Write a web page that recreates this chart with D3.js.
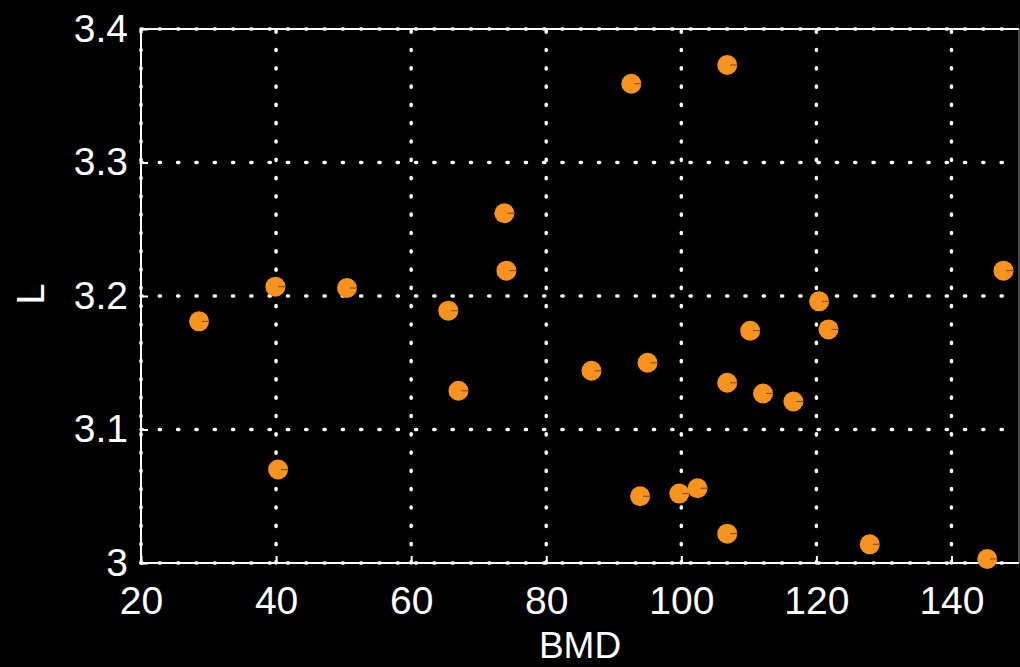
<!DOCTYPE html>
<html>
<head>
<meta charset="utf-8">
<script src="https://cdn.jsdelivr.net/npm/d3@7"></script>
<style>
  body { margin: 0; background: #000; }
  text { font-family: "Liberation Sans", Arial, sans-serif; fill: #fff; }
</style>
</head>
<body>
<svg id="chart" width="1020" height="667"></svg>
<script>
// BMD vs L values
const bmd = [28.6, 39.9, 40.3, 50.5, 65.5, 67.0, 73.8, 74.1, 86.7, 92.6, 93.9, 95.0,
             99.7, 102.4, 106.8, 106.8, 106.8, 110.2, 112.1, 116.6, 120.4, 121.8, 127.9, 145.3, 147.7];
const lVal = [3.181, 3.207, 3.070, 3.206, 3.189, 3.129, 3.262, 3.219, 3.144, 3.359, 3.050, 3.150,
              3.052, 3.056, 3.373, 3.135, 3.022, 3.174, 3.127, 3.121, 3.196, 3.175, 3.014, 3.003, 3.219];
const xTicks = [20, 40, 60, 80, 100, 120, 140];
const yTicks = [3, 3.1, 3.2, 3.3, 3.4];

const svg = d3.select("#chart");
const mLeft = 141, mRight = 1019, mTop = 29, mBottom = 563;

const x = d3.scaleLinear().domain([20, 150]).range([mLeft, mRight]);
const y = d3.scaleLinear().domain([3, 3.4]).range([mBottom, mTop]);

// dotted grid
const grid = svg.append("g")
    .attr("stroke", "#fff")
    .attr("stroke-width", 3.5)
    .attr("stroke-linecap", "round")
    .attr("stroke-dasharray", "1.2,17.1");
grid.selectAll("line.vx").data(xTicks).enter().append("line")
    .attr("x1", d => x(d)).attr("x2", d => x(d))
    .attr("y1", mBottom).attr("y2", mTop);
grid.selectAll("line.hy").data(yTicks).enter().append("line")
    .attr("x1", mLeft).attr("x2", mRight)
    .attr("y1", d => y(d)).attr("y2", d => y(d));

// frame: solid left, bottom, top; faint right
svg.append("path")
    .attr("d", `M${mRight},${mTop}H${mLeft}V${mBottom}H${mRight}`)
    .attr("fill", "none").attr("stroke", "#fff").attr("stroke-width", 2);
svg.append("line")
    .attr("x1", mRight).attr("x2", mRight).attr("y1", mTop).attr("y2", mBottom)
    .attr("stroke", "#999").attr("stroke-width", 1);

// axes (labels only, ticks drawn short inside)
const xAxis = svg.append("g")
    .attr("transform", `translate(0,${mBottom})`)
    .call(d3.axisBottom(x).tickValues(xTicks).tickSize(-7).tickPadding(23).tickFormat(d3.format("d")));
const yAxis = svg.append("g")
    .attr("transform", `translate(${mLeft},0)`)
    .call(d3.axisLeft(y).tickValues(yTicks).tickSize(-7).tickPadding(13).tickFormat(d => d === 3 ? "3" : d3.format(".1f")(d)));
[xAxis, yAxis].forEach(a => {
    a.select(".domain").remove();
    a.selectAll(".tick line").attr("stroke", "#fff").attr("stroke-width", 2);
    a.selectAll(".tick text").attr("fill", "#fff").style("font-size", "39px");
});
xAxis.selectAll(".tick text").attr("dy", "0.71em");

// axis titles
svg.append("text")
    .attr("x", (mLeft + mRight) / 2).attr("y", 658)
    .attr("text-anchor", "middle").style("font-size", "37px")
    .text("BMD");
svg.append("text")
    .attr("transform", `translate(44,${y(3.2) - 2}) rotate(-90)`)
    .attr("text-anchor", "middle").style("font-size", "38px")
    .text("L");

// points
const pts = bmd.map((b, i) => ({ b: b, l: lVal[i] }));
const dots = svg.append("g").selectAll("g").data(pts).enter().append("g")
    .attr("transform", d => `translate(${x(d.b)},${y(d.l)})`);
dots.append("circle").attr("r", 10).attr("fill", "#f7931e");
dots.append("line").attr("x1", 3).attr("x2", 10).attr("y1", 0).attr("y2", 0)
    .attr("stroke", "#7a4a10").attr("stroke-width", 1);
</script>
</body>
</html>
